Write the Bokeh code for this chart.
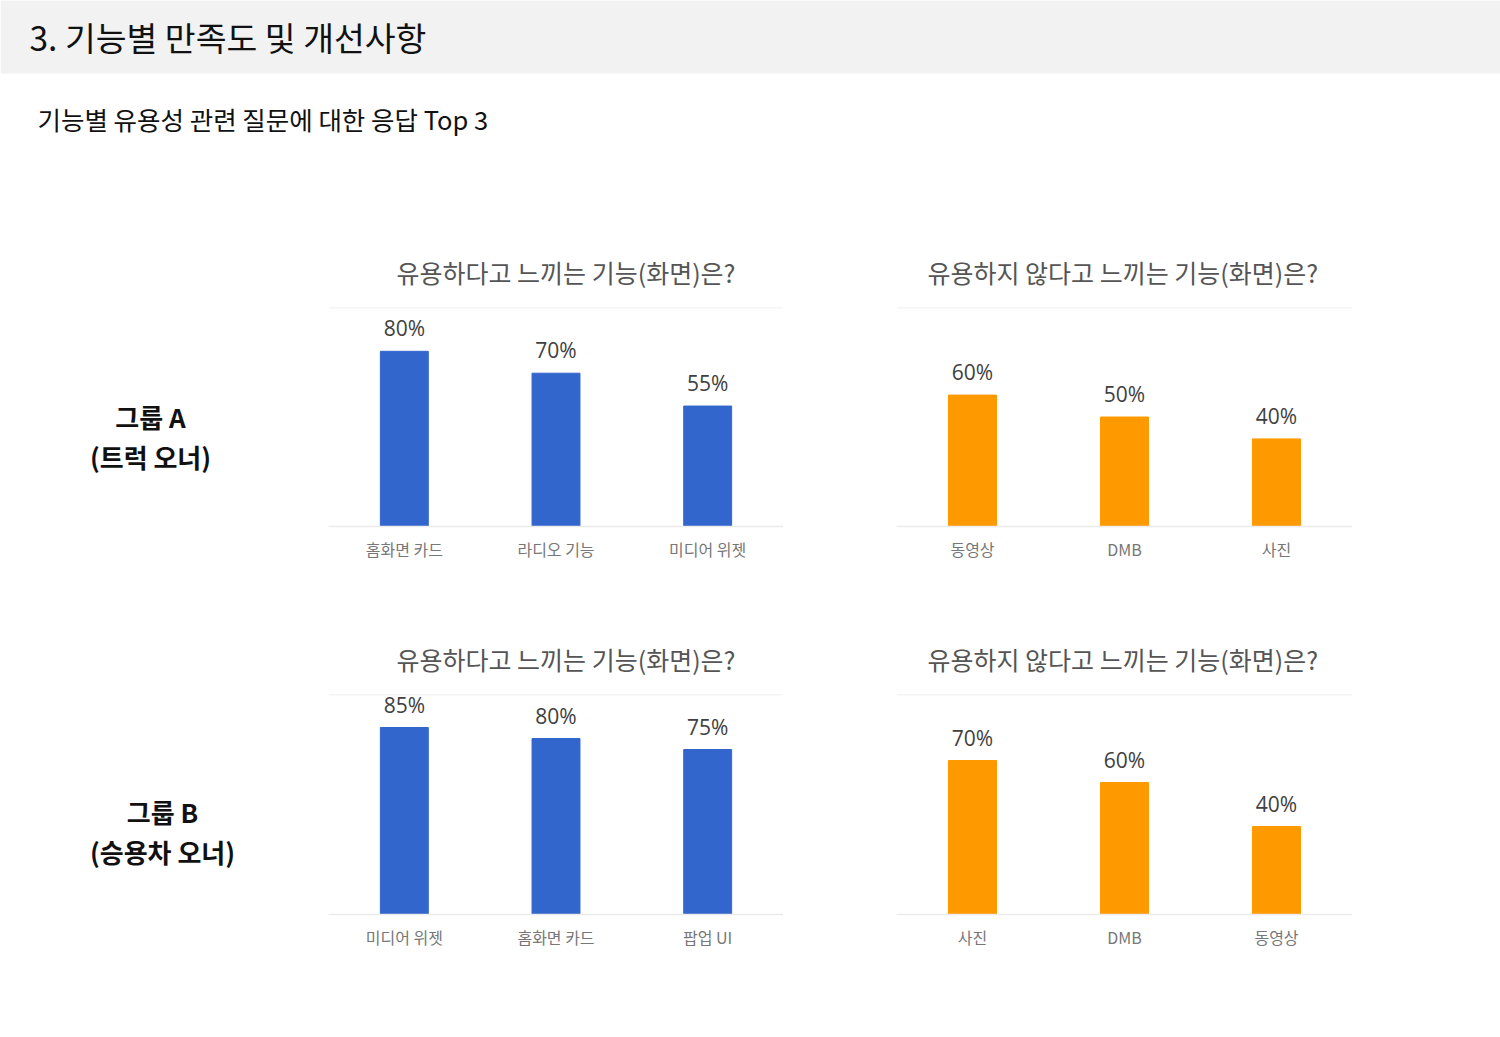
from bokeh.plotting import figure
from bokeh.layouts import column, row
from bokeh.models import Range1d, FactorRange, Span, Spacer, BoxAnnotation, ColumnDataSource
from bokeh.core.properties import value
from bokeh.embed import file_html
from bokeh.resources import INLINE

# ---------------- data ----------------
page_title = "3. 기능별 만족도 및 개선사항"
page_subtitle = "기능별 유용성 관련 질문에 대한 응답 Top 3"
title_useful = "유용하다고 느끼는 기능(화면)은?"
title_not_useful = "유용하지 않다고 느끼는 기능(화면)은?"

group_a = ["그룹 A", "(트럭 오너)"]
group_b = ["그룹 B", "(승용차 오너)"]

a_useful_cats = ["홈화면 카드", "라디오 기능", "미디어 위젯"]
a_useful_vals = [80, 70, 55]
a_not_cats = ["동영상", "DMB", "사진"]
a_not_vals = [60, 50, 40]

b_useful_cats = ["미디어 위젯", "홈화면 카드", "팝업 UI"]
b_useful_vals = [85, 80, 75]
b_not_cats = ["사진", "DMB", "동영상"]
b_not_vals = [70, 60, 40]

BLUE = "#3366CC"
ORANGE = "#FF9900"
KFONT = "Noto Sans CJK KR"


def blank(width, height, yr, top=0, bottom=0):
    p = figure(width=width, height=height, x_range=Range1d(0, width), y_range=Range1d(yr, 0),
               toolbar_location=None, output_backend="svg", min_border=0,
               min_border_top=top, min_border_bottom=bottom)
    p.axis.visible = False
    p.grid.visible = False
    p.outline_line_color = None
    return p


def chart(title, cats, vals, color, top_border, frame_h, bottom_border, width, title_offset):
    p = figure(width=width, height=top_border + frame_h + bottom_border,
               x_range=FactorRange(*cats), y_range=Range1d(0, 100),
               toolbar_location=None, output_backend="svg",
               min_border_left=0, min_border_right=0,
               min_border_top=top_border, min_border_bottom=bottom_border)
    p.title.text = title
    p.title.align = "left"
    p.title.offset = title_offset
    p.title.text_font = KFONT
    p.title.text_font_size = "25px"
    p.title.text_font_style = "normal"
    p.title.text_color = "#555555"
    p.title.standoff = 36
    src = ColumnDataSource(dict(cat=cats, val=vals, lab=[f"{v}%" for v in vals]))
    p.vbar(x="cat", top="val", width=0.316, color=color, source=src)
    p.text(x="cat", y="val", text="lab", source=src, text_align="center",
           text_baseline="alphabetic", y_offset=-23, text_font=value("Open Sans"),
           text_font_size="21px", text_color="#404040")
    p.add_layout(Span(location=100, dimension="width", line_color="#ebebeb", line_width=1.5))
    p.yaxis.visible = False
    p.grid.visible = False
    p.outline_line_color = None
    p.xaxis.axis_line_color = "#ebebeb"
    p.xaxis.axis_line_width = 1.5
    p.xaxis.major_tick_line_color = None
    p.xaxis.minor_tick_line_color = None
    p.xaxis.major_label_text_font = KFONT
    p.xaxis.major_label_text_font_size = "16px"
    p.xaxis.major_label_text_color = "#777777"
    p.xaxis.major_label_standoff = 4
    p.x_range.range_padding = 0
    return p


# ---------------- header ----------------
head = blank(1500, 190, 190)
head.add_layout(BoxAnnotation(top=0, bottom=73, fill_color="#f2f2f2", fill_alpha=1,
                              line_color=None, level="underlay"))
head.text(x=[29], y=[36], text=[page_title], text_font=value(KFONT), text_font_size="33.5px",
          text_baseline="middle", text_color="#111111")
head.text(x=[37], y=[118], text=[page_subtitle], text_font=value(KFONT), text_font_size="25.5px",
          text_baseline="middle", text_color="#111111")

# ---------------- row 1 ----------------
R1_TOP, R1_FRAME, R1_BOT = 117, 219, 74
r1_h = R1_TOP + R1_FRAME + R1_BOT
lab1 = blank(328, r1_h, R1_FRAME, R1_TOP, R1_BOT)
lab1.text(x=[150, 150], y=[109, 149], text=group_a, text_font=value(KFONT), text_font_size="26px",
          text_font_style="bold", text_align="center", text_baseline="middle", text_color="#111111")
c11 = chart(title_useful, a_useful_cats, a_useful_vals, BLUE, R1_TOP, R1_FRAME, R1_BOT, 455, 68)
c12 = chart(title_not_useful, a_not_cats, a_not_vals, ORANGE, R1_TOP, R1_FRAME, R1_BOT, 456, 31)
row1 = row(lab1, c11, Spacer(width=113, height=r1_h), c12, Spacer(width=148, height=r1_h), spacing=0)

# ---------------- row 2 ----------------
R2_TOP, R2_FRAME, R2_BOT = 94, 220, 123
r2_h = R2_TOP + R2_FRAME + R2_BOT
lab2 = blank(328, r2_h, R2_FRAME, R2_TOP, R2_BOT)
lab2.text(x=[162, 162], y=[117, 157], text=group_b, text_font=value(KFONT), text_font_size="26px",
          text_font_style="bold", text_align="center", text_baseline="middle", text_color="#111111")
c21 = chart(title_useful, b_useful_cats, b_useful_vals, BLUE, R2_TOP, R2_FRAME, R2_BOT, 455, 68)
c22 = chart(title_not_useful, b_not_cats, b_not_vals, ORANGE, R2_TOP, R2_FRAME, R2_BOT, 456, 31)
row2 = row(lab2, c21, Spacer(width=113, height=r2_h), c22, Spacer(width=148, height=r2_h), spacing=0)

layout = column(head, row1, row2, spacing=0)

open("out.html", "w").write(file_html(layout, INLINE))
